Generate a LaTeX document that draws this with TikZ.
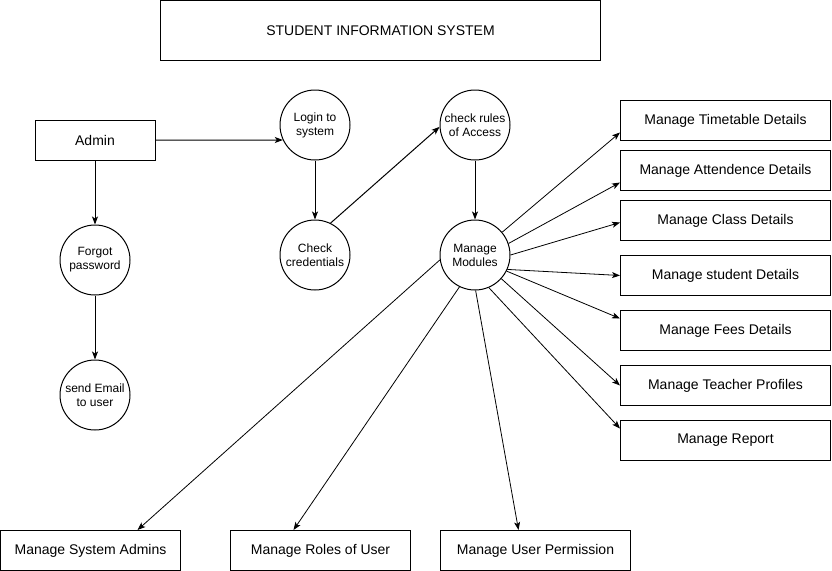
\documentclass[tikz,border=0pt]{standalone}
\usepackage{fontspec}
\setmainfont{Liberation Sans}
\usetikzlibrary{arrows.meta,positioning,calc}
\tikzset{
  titlebox/.style={
    rectangle, draw, line width=0.75pt,
    minimum width=330pt, minimum height=45pt,
    font=\fontsize{10.5}{12.6}\selectfont, inner sep=0pt
  },
  entitybox/.style={
    rectangle, draw, line width=0.75pt,
    minimum width=#1, minimum height=30pt,
    font=\fontsize{10.5}{12.6}\selectfont, align=center,
    inner sep=0pt
  },
  entitybox/.default=157.5pt,
  procnode/.style={
    circle, draw, line width=0.75pt,
    minimum size=52.5pt, inner sep=0pt,
    font=\fontsize{9}{10.5}\selectfont, align=center
  },
  flowarrow/.style={
    -{Stealth[length=6pt, width=4.5pt, inset=1.5pt]}, line width=#1
  },
  flowarrow/.default=0.75pt,
}
\begin{document}
\begin{tikzpicture}[x=0.75pt, y=-0.75pt]
  \useasboundingbox (0,0) rectangle (832,571);

  % Title at top
  \node[titlebox] (title) at (380.5,30.5) {STUDENT INFORMATION SYSTEM};

  % Admin and password recovery
  \node[entitybox=90pt] (admin) at (95,140) {Admin};
  \node[procnode] (forgot) at (95,260) {Forgot\\password};
  \node[procnode] (email) at (95,395) {send Email\\to user};

  % Login chain
  \node[procnode] (login) at (315,125) {Login to\\system};
  \node[procnode] (creds) at (315,255) {Check\\credentials};
  \node[procnode] (rules) at (475,125) {check rules\\of Access};
  \node[procnode] (modules) at (475,255) {Manage\\Modules};

  % Module column on the right
  \node[entitybox] (timetable) at (725.5,120.5) {Manage Timetable Details};
  \node[entitybox, below=6.75pt of timetable] (attend) {Manage Attendence Details};
  \node[entitybox, below=6.75pt of attend] (class) {Manage Class Details};
  \node[entitybox, below=10.5pt of class] (student) {Manage student Details};
  \node[entitybox, below=10.5pt of student] (fees) {Manage Fees Details};
  \node[entitybox, below=10.5pt of fees] (teacher) {Manage Teacher Profiles};
  \node[entitybox, below=10.5pt of teacher] (report) {Manage Report};

  % Module row at the bottom
  \node[entitybox=135pt] (sysadmins) at (90.5,550.5) {Manage System Admins};
  \node[entitybox=135pt] (roles) at (320.5,550.5) {Manage Roles of User};
  \node[entitybox=142.5pt] (permission) at (535.5,550.5) {Manage User Permission};

  % Login flow
  \draw[flowarrow] (admin.east) -- (login.205);
  \draw[flowarrow] (admin) -- (forgot);
  \draw[flowarrow] (forgot) -- (email);
  \draw[flowarrow] (login) -- (creds);
  \draw[flowarrow] (creds.64) -- (rules.183);
  \draw[flowarrow] (rules) -- (modules);

  % Modules fan out
  \draw[flowarrow=0.6pt] (modules.40) -- ($(timetable.west)+(0,12)$);
  \draw[flowarrow=0.6pt] (modules.19) -- ($(attend.west)+(0,12)$);
  \draw[flowarrow=0.6pt] (modules.0) -- ($(class.west)+(0,2)$);
  \draw[flowarrow=0.6pt] (modules.-24) -- (student.west);
  \draw[flowarrow=0.6pt] (modules.-27) -- ($(fees.west)+(0,-12)$);
  \draw[flowarrow=0.6pt] (modules.-42) -- (teacher.west);
  \draw[flowarrow=0.6pt] (modules.-67) -- ($(report.west)+(0,-12)$);
  \draw[flowarrow=0.6pt] (modules.188) -- ($(sysadmins.north)+(47,0)$);
  \draw[flowarrow=0.6pt] (modules.244) -- ($(roles.north)+(-27,0)$);
  \draw[flowarrow=0.6pt] (modules.271) -- ($(permission.north)+(-17,0)$);
\end{tikzpicture}
\end{document}
